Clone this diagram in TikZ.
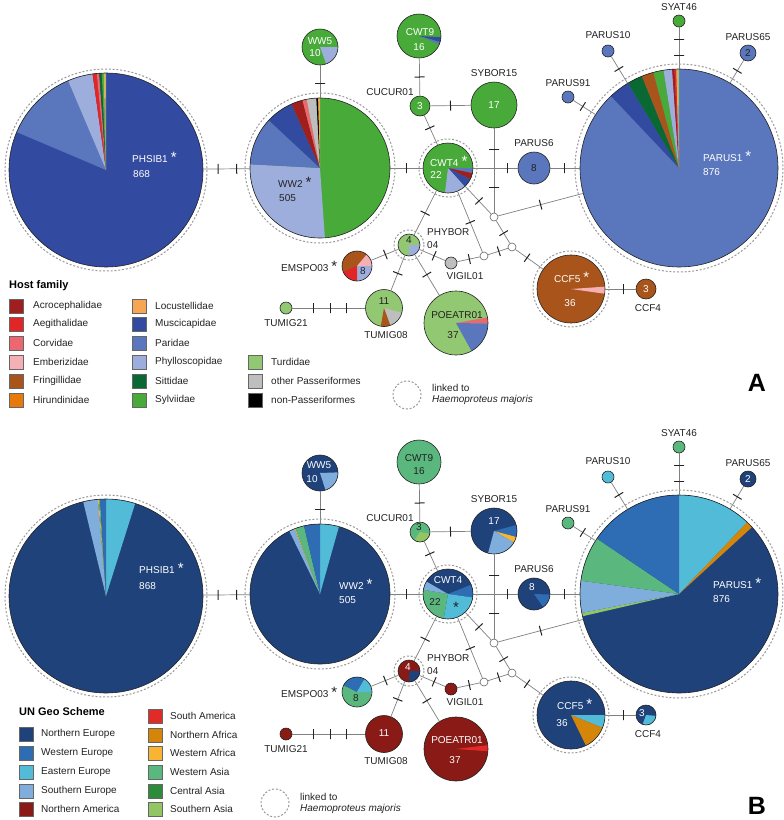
\documentclass[tikz,border=0pt]{standalone}
\usepackage{fontspec}
\setmainfont{Liberation Sans}
\usepackage{xcolor}
% host family colours
\definecolor{acro}{RGB}{160,30,30}
\definecolor{aegi}{RGB}{224,38,38}
\definecolor{corv}{RGB}{236,104,112}
\definecolor{embe}{RGB}{245,176,182}
\definecolor{frin}{RGB}{168,84,26}
\definecolor{hiru}{RGB}{232,122,10}
\definecolor{locu}{RGB}{247,166,84}
\definecolor{musc}{RGB}{50,74,160}
\definecolor{pari}{RGB}{90,118,188}
\definecolor{phyl}{RGB}{158,174,220}
\definecolor{sitt}{RGB}{10,104,50}
\definecolor{sylv}{RGB}{72,170,56}
\definecolor{turd}{RGB}{146,200,114}
\definecolor{othp}{RGB}{190,190,190}
\definecolor{nonp}{RGB}{0,0,0}
% UN geo scheme colours
\definecolor{neur}{RGB}{31,66,122}
\definecolor{weur}{RGB}{46,108,180}
\definecolor{eeur}{RGB}{82,188,216}
\definecolor{seur}{RGB}{128,174,220}
\definecolor{nam}{RGB}{138,26,22}
\definecolor{sam}{RGB}{226,42,40}
\definecolor{naf}{RGB}{212,134,10}
\definecolor{waf}{RGB}{248,180,50}
\definecolor{was}{RGB}{90,184,126}
\definecolor{cas}{RGB}{44,140,58}
\definecolor{sas}{RGB}{146,198,100}
\definecolor{inkgray}{RGB}{34,34,34}

% pie segment, angles clockwise from 12 o'clock
\newcommand{\pieseg}[3]{\fill[#3] (path picture bounding box.center) -- +({#1-90}:300) -- +({(#1+#2)/2-90}:300) -- +({#2-90}:300) -- cycle;}
\newcommand{\hapstar}{\hspace{3pt}{\fontsize{15}{15}\selectfont *}}

% links with mutation steps
\newcommand{\haplinks}[1]{%
  \draw[link] (phsib1#1) -- node[mut,pos=.32]{} node[mut,pos=.72]{} (ww2#1);
  \draw[link] (ww2#1) -- node[mut,pos=.45]{} (ww5#1);
  \draw[link] (ww2#1) -- node[mut,pos=.5]{} (cwt4#1);
  \draw[link] (cwt9#1) -- node[mut,pos=.5]{} (cucur01#1);
  \draw[link] (cucur01#1) -- node[mut,pos=.5]{} (sybor15#1);
  \draw[link] (cucur01#1) -- node[mut,pos=.42]{} (cwt4#1);
  \draw[link] (cwt4#1) -- node[mut,pos=.76]{} (parus6#1);
  \draw[link] (sybor15#1) -- node[mut,pos=.25]{} node[mut,pos=.7]{} (mva#1);
  \draw[link] (parus6#1) -- node[mut,pos=.47]{} (parus1#1);
  \draw[link] (mva#1) -- node[mut,pos=.5]{} (parus1#1);
  \draw[link] (cwt4#1) -- node[mut,pos=.53]{} (mva#1);
  \draw[link] (mva#1) -- node[mut,pos=.55]{} (mvb#1);
  \draw[link] (mvb#1) -- node[mut,pos=.42]{} (ccf5#1);
  \draw[link] (ccf5#1) -- node[mut,pos=.6]{} (ccf4#1);
  \draw[link] (cwt4#1) -- node[mut,pos=.51]{} (mvc#1);
  \draw[link] (mvc#1) -- node[mut,pos=.54]{} (mvb#1);
  \draw[link] (vigil01#1) -- node[mut,pos=.54]{} (mvc#1);
  \draw[link] (phybor04#1) -- node[mut,pos=.57]{} (vigil01#1);
  \draw[link] (phybor04#1) -- node[mut,pos=.49]{} (cwt4#1);
  \draw[link] (phybor04#1) -- node[mut,pos=.48]{} (emspo03#1);
  \draw[link] (phybor04#1) -- node[mut,pos=.51]{} (tumig08#1);
  \draw[link] (phybor04#1) -- node[mut,pos=.49]{} (poeatr01#1);
  \draw[link] (tumig21#1) -- node[mut,pos=.29]{} node[mut,pos=.52]{} node[mut,pos=.75]{} (tumig08#1);
  \draw[link] (syat46#1) -- node[mut,pos=.29]{} node[mut,pos=.69]{} (parus1#1);
  \draw[link] (parus10#1) -- node[mut,pos=.47]{} (parus1#1);
  \draw[link] (parus65#1) -- node[mut,pos=.47]{} (parus1#1);
  \draw[link] (parus91#1) -- node[mut,pos=.43]{} (parus1#1);
  % linked to H. majoris
  \draw[ring] (phsib1#1.center) circle[radius=101];
  \draw[ring] (ww2#1.center) circle[radius=75];
  \draw[ring] (cwt4#1.center) circle[radius=29];
  \draw[ring] (phybor04#1.center) circle[radius=15];
  \draw[ring] (ccf5#1.center) circle[radius=38];
  \draw[ring] (parus1#1.center) circle[radius=104];
}

% haplotype names outside the circles
\newcommand{\haptags}[1]{%
  \node[lab] (tsyat46#1) at (679,7) {SYAT46};
  \node[lab] (tparus10#1) at (608,35) {PARUS10};
  \node[lab] (tparus65#1) at (748,37) {PARUS65};
  \node[lab] (tparus91#1) at (568,83) {PARUS91};
  \node[lab] (tsybor15#1) at (494,73) {SYBOR15};
  \node[lab] (tcucur01#1) at (390,92) {CUCUR01};
  \node[lab] (tparus6#1) at (534,143) {PARUS6};
  \node[lab, anchor=west] (tphybor#1) at (427,232) {PHYBOR};
  \node[lab, anchor=west] (tphybor04#1) at (427,245) {04};
  \node[lab] (tvigil01#1) at (465,276) {VIGIL01};
  \node[lab, anchor=base west] (temspo03#1) at (281,271) {EMSPO03\hapstar};
  \node[lab] (ttumig21#1) at (286,323) {TUMIG21};
  \node[lab] (ttumig08#1) at (386,335) {TUMIG08};
  \node[lab] (tccf4#1) at (648,308) {CCF4};
}

\begin{document}
\begin{tikzpicture}[x=1pt, y=-1pt,
  hap/.style={circle, draw=inkgray, line width=0.6pt, inner sep=0pt},
  mv/.style={circle, draw=black!60, fill=white, line width=0.6pt, minimum size=8pt, inner sep=0pt},
  ring/.style={draw=black!40, line width=1pt, dash pattern=on 2pt off 1.8pt},
  link/.style={draw=black!50, line width=0.7pt},
  mut/.style={sloped, draw=inkgray, line width=1pt, inner sep=0pt, minimum width=0pt, minimum height=10pt},
  lab/.style={font=\fontsize{10}{11}\selectfont, inner sep=0pt, text=inkgray},
  wlab/.style={lab, text=white},
  ast/.style={font=\fontsize{15}{15}\selectfont, inner sep=0pt, text=inkgray},
  legsq/.style={draw=black!60, line width=0.5pt, minimum size=14pt, inner sep=0pt},
  legtxt/.style={font=\fontsize{10}{11}\selectfont, anchor=west, inner sep=0pt, text=inkgray},
  legtitle/.style={font=\bfseries\fontsize{11}{12}\selectfont, anchor=west, inner sep=0pt},
  panel/.style={font=\bfseries\fontsize{25}{25}\selectfont, inner sep=0pt}
]
\useasboundingbox (0,0) rectangle (784,820);

% ---------------- A: host family ----------------
\node[hap, minimum size=194pt, fill=musc, path picture={\pieseg{293}{337}{pari}\pieseg{337}{352}{phyl}\pieseg{352}{354.5}{aegi}\pieseg{354.5}{356}{corv}\pieseg{356}{357.5}{sitt}\pieseg{357.5}{358.6}{sylv}\pieseg{358.6}{359.4}{locu}\pieseg{359.4}{360}{turd}}] (phsib1A) at (106,170) {};
\node[hap, minimum size=140pt, fill=sylv, path picture={\pieseg{176}{273}{phyl}\pieseg{273}{313}{pari}\pieseg{313}{336}{musc}\pieseg{336}{345.5}{acro}\pieseg{345.5}{349}{corv}\pieseg{349}{357}{othp}\pieseg{357}{358.5}{nonp}\pieseg{358.5}{360}{locu}}] (ww2A) at (320,168) {};
\node[hap, minimum size=36pt, fill=sylv, path picture={\pieseg{90}{160}{phyl}}] (ww5A) at (320,47) {};
\node[hap, minimum size=44pt, fill=sylv, path picture={\pieseg{93}{106}{musc}\pieseg{106}{112}{pari}}] (cwt9A) at (419,36) {};
\node[hap, minimum size=20pt, fill=sylv] (cucur01A) at (420,106) {};
\node[hap, minimum size=46pt, fill=sylv] (sybor15A) at (494,105) {};
\node[hap, minimum size=50pt, fill=sylv, path picture={\pieseg{90}{102}{pari}\pieseg{102}{117}{acro}\pieseg{117}{138}{musc}\pieseg{138}{187}{phyl}}] (cwt4A) at (448,168) {};
\node[hap, minimum size=32pt, fill=pari] (parus6A) at (534,168) {};
\node[hap, minimum size=198pt, fill=pari, path picture={\pieseg{316.6}{329}{musc}\pieseg{329}{338}{sitt}\pieseg{338}{345}{frin}\pieseg{345}{351}{sylv}\pieseg{351}{356}{phyl}\pieseg{356}{357.4}{acro}\pieseg{357.4}{358.4}{aegi}\pieseg{358.4}{359.3}{locu}\pieseg{359.3}{360}{turd}}] (parus1A) at (679,168) {};
\node[hap, minimum size=12pt, fill=sylv] (syat46A) at (679,21) {};
\node[hap, minimum size=12pt, fill=pari] (parus10A) at (608,51) {};
\node[hap, minimum size=16pt, fill=pari] (parus65A) at (748,53) {};
\node[hap, minimum size=12pt, fill=pari] (parus91A) at (568,97) {};
\node[hap, minimum size=68pt, fill=frin, path picture={\pieseg{86}{98}{embe}}] (ccf5A) at (571,289) {};
\node[hap, minimum size=20pt, fill=frin] (ccf4A) at (646,289) {};
\node[hap, minimum size=22pt, fill=turd, path picture={\pieseg{90}{180}{phyl}}] (phybor04A) at (409,245) {};
\node[hap, minimum size=12pt, fill=othp] (vigil01A) at (451,263) {};
\node[hap, minimum size=30pt, fill=frin, path picture={\pieseg{40}{90}{embe}\pieseg{90}{180}{phyl}\pieseg{180}{247}{aegi}}] (emspo03A) at (357,266) {};
\node[hap, minimum size=12pt, fill=turd] (tumig21A) at (286,308) {};
\node[hap, minimum size=37pt, fill=turd, path picture={\pieseg{105}{160}{othp}\pieseg{160}{190}{frin}}] (tumig08A) at (384,308) {};
\node[hap, minimum size=64pt, fill=turd, path picture={\pieseg{80}{91}{corv}\pieseg{91}{151}{pari}}] (poeatr01A) at (456,323) {};
\node[mv] (mvaA) at (494,217) {};
\node[mv] (mvbA) at (512,247) {};
\node[mv] (mvcA) at (484,256) {};

\haplinks{A}
\haptags{A}

% counts and names inside the circles
\node[wlab, anchor=base west] (nphsib1A) at (132,162) {PHSIB1\hapstar};
\node[wlab, anchor=west] (cphsib1A) at (133,174) {868};
\node[lab, anchor=base west] (nww2A) at (278,187) {WW2\hapstar};
\node[lab, anchor=west] (cww2A) at (279,198) {505};
\node[wlab] (nww5A) at (320,41) {WW5};
\node[wlab] (cww5A) at (315,53) {10};
\node[wlab] (ncwt9A) at (420,32) {CWT9};
\node[wlab] (ccwt9A) at (419,47) {16};
\node[wlab] (ccucur01A) at (420,106) {3};
\node[wlab] (csybor15A) at (494,105) {17};
\node[wlab, anchor=base west] (ncwt4A) at (430,166) {CWT4\hapstar};
\node[wlab] (ccwt4A) at (436,175) {22};
\node[lab] (cparus6A) at (534,168) {8};
\node[wlab, anchor=base west] (nparus1A) at (703,161) {PARUS1\hapstar};
\node[wlab, anchor=west] (cparus1A) at (703,172) {876};
\node[lab] (cparus65A) at (748,53) {2};
\node[lab] (cphybor04A) at (409,240) {4};
\node[lab] (cemspo03A) at (363,271) {8};
\node[lab] (ctumig08A) at (384,301) {11};
\node[lab] (npoeatr01A) at (457,315) {POEATR01};
\node[lab] (cpoeatr01A) at (453,335) {37};
\node[wlab, anchor=base west] (nccf5A) at (554,282) {CCF5\hapstar};
\node[wlab] (cccf5A) at (570,303) {36};
\node[wlab] (cccf4A) at (646,289) {3};

% legend A
\node[legtitle] (hostkey) at (9,286) {Host family};
\node[legsq, fill=acro] (kacro) at (16,306) {}; \node[legtxt] (lacro) at (33,306) {Acrocephalidae};
\node[legsq, fill=aegi] (kaegi) at (16,324) {}; \node[legtxt] (laegi) at (33,324) {Aegithalidae};
\node[legsq, fill=corv] (kcorv) at (16,343) {}; \node[legtxt] (lcorv) at (33,343) {Corvidae};
\node[legsq, fill=embe] (kembe) at (16,362) {}; \node[legtxt] (lembe) at (33,362) {Emberizidae};
\node[legsq, fill=frin] (kfrin) at (16,381) {}; \node[legtxt] (lfrin) at (33,381) {Fringillidae};
\node[legsq, fill=hiru] (khiru) at (16,400) {}; \node[legtxt] (lhiru) at (33,400) {Hirundinidae};
\node[legsq, fill=locu] (klocu) at (139,306) {}; \node[legtxt] (llocu) at (155,306) {Locustellidae};
\node[legsq, fill=musc] (kmusc) at (139,324) {}; \node[legtxt] (lmusc) at (155,324) {Muscicapidae};
\node[legsq, fill=pari] (kpari) at (139,343) {}; \node[legtxt] (lpari) at (155,343) {Paridae};
\node[legsq, fill=phyl] (kphyl) at (139,362) {}; \node[legtxt] (lphyl) at (155,362) {Phylloscopidae};
\node[legsq, fill=sitt] (ksitt) at (139,381) {}; \node[legtxt] (lsitt) at (155,381) {Sittidae};
\node[legsq, fill=sylv] (ksylv) at (139,400) {}; \node[legtxt] (lsylv) at (155,400) {Sylviidae};
\node[legsq, fill=turd] (kturd) at (255,362) {}; \node[legtxt] (lturd) at (271,362) {Turdidae};
\node[legsq, fill=othp] (kothp) at (255,381) {}; \node[legtxt] (lothp) at (271,381) {other Passeriformes};
\node[legsq, fill=nonp] (knonp) at (255,400) {}; \node[legtxt] (lnonp) at (271,400) {non-Passeriformes};

\node[circle, ring, minimum size=28pt] (keyringA) at (407,395) {};
\node[legtxt] (keylinkA) at (432,388) {linked to};
\node[legtxt, font=\itshape\fontsize{10}{11}\selectfont] (keyhaemA) at (432,400) {Haemoproteus majoris};
\node[panel] (letterA) at (757,383) {A};

% ---------------- B: UN geo scheme ----------------
\begin{scope}[yshift=-426pt]
\node[hap, minimum size=194pt, fill=neur, path picture={\pieseg{0}{17.5}{eeur}\pieseg{346.4}{355.2}{seur}\pieseg{355.2}{355.8}{waf}\pieseg{355.8}{356.5}{was}\pieseg{356.5}{360}{weur}}] (phsib1B) at (106,170) {};
\node[hap, minimum size=140pt, fill=neur, path picture={\pieseg{0}{15.7}{eeur}\pieseg{334}{338.7}{seur}\pieseg{338.7}{339.5}{waf}\pieseg{339.5}{346.8}{was}\pieseg{346.8}{360}{weur}}] (ww2B) at (320,168) {};
\node[hap, minimum size=36pt, fill=neur, path picture={\pieseg{88}{162}{seur}}] (ww5B) at (320,47) {};
\node[hap, minimum size=44pt, fill=was] (cwt9B) at (419,36) {};
\node[hap, minimum size=20pt, fill=was, path picture={\pieseg{100}{215}{sas}}] (cucur01B) at (420,106) {};
\node[hap, minimum size=46pt, fill=neur, path picture={\pieseg{75}{105}{weur}\pieseg{105}{120}{waf}\pieseg{120}{195}{seur}}] (sybor15B) at (494,105) {};
\node[hap, minimum size=50pt, fill=neur, path picture={\pieseg{68}{98}{weur}\pieseg{98}{190}{eeur}\pieseg{190}{280}{was}\pieseg{280}{300}{seur}}] (cwt4B) at (448,168) {};
\node[hap, minimum size=32pt, fill=neur, path picture={\pieseg{92}{145}{weur}}] (parus6B) at (534,168) {};
\node[hap, minimum size=198pt, fill=neur, path picture={\pieseg{0}{43.5}{eeur}\pieseg{43.5}{47.5}{naf}\pieseg{257}{259}{sas}\pieseg{259}{277.7}{seur}\pieseg{277.7}{304}{was}\pieseg{304}{360}{weur}}] (parus1B) at (679,168) {};
\node[hap, minimum size=12pt, fill=was] (syat46B) at (679,21) {};
\node[hap, minimum size=12pt, fill=eeur] (parus10B) at (608,51) {};
\node[hap, minimum size=16pt, fill=neur] (parus65B) at (748,53) {};
\node[hap, minimum size=12pt, fill=was] (parus91B) at (568,97) {};
\node[hap, minimum size=68pt, fill=neur, path picture={\pieseg{90}{112}{eeur}\pieseg{112}{154}{naf}}] (ccf5B) at (571,289) {};
\node[hap, minimum size=20pt, fill=neur, path picture={\pieseg{95}{200}{eeur}}] (ccf4B) at (646,289) {};
\node[hap, minimum size=22pt, fill=nam, path picture={\pieseg{90}{180}{neur}}] (phybor04B) at (409,245) {};
\node[hap, minimum size=12pt, fill=nam] (vigil01B) at (451,263) {};
\node[hap, minimum size=30pt, fill=was, path picture={\pieseg{296}{390}{weur}\pieseg{30}{90}{eeur}}] (emspo03B) at (357,266) {};
\node[hap, minimum size=12pt, fill=nam] (tumig21B) at (286,308) {};
\node[hap, minimum size=37pt, fill=nam] (tumig08B) at (384,308) {};
\node[hap, minimum size=64pt, fill=nam, path picture={\pieseg{83}{94}{sam}}] (poeatr01B) at (456,323) {};
\node[mv] (mvaB) at (494,217) {};
\node[mv] (mvbB) at (512,247) {};
\node[mv] (mvcB) at (484,256) {};

\haplinks{B}
\haptags{B}

\node[wlab, anchor=base west] (nphsib1B) at (139,147) {PHSIB1\hapstar};
\node[wlab, anchor=west] (cphsib1B) at (139,160) {868};
\node[wlab, anchor=base west] (nww2B) at (339,163) {WW2\hapstar};
\node[wlab, anchor=west] (cww2B) at (339,174) {505};
\node[wlab] (nww5B) at (319,39) {WW5};
\node[wlab] (cww5B) at (312,53) {10};
\node[lab] (ncwt9B) at (419,32) {CWT9};
\node[lab] (ccwt9B) at (419,45) {16};
\node[lab] (ccucur01B) at (419,101) {3};
\node[wlab] (csybor15B) at (494,95) {17};
\node[wlab] (ncwt4B) at (448,154) {CWT4};
\node[lab] (ccwt4B) at (435,176) {22};
\node[ast] (scwt4B) at (456,181) {*};
\node[wlab] (cparus6B) at (532,161) {8};
\node[wlab, anchor=base west] (nparus1B) at (713,162) {PARUS1\hapstar};
\node[wlab, anchor=west] (cparus1B) at (713,173) {876};
\node[wlab] (cparus65B) at (748,53) {2};
\node[wlab] (cphybor04B) at (408,241) {4};
\node[lab] (cemspo03B) at (356,272) {8};
\node[wlab] (ctumig08B) at (384,307) {11};
\node[wlab] (npoeatr01B) at (457,314) {POEATR01};
\node[wlab] (cpoeatr01B) at (455,334) {37};
\node[wlab, anchor=base west] (nccf5B) at (557,283) {CCF5\hapstar};
\node[wlab] (cccf5B) at (562,297) {36};
\node[wlab] (cccf4B) at (642,287) {3};
\end{scope}

% legend B
\node[legtitle] (geokey) at (19,712) {UN Geo Scheme};
\node[legsq, fill=neur] (kneur) at (26,734) {}; \node[legtxt] (lneur) at (41,734) {Northern Europe};
\node[legsq, fill=weur] (kweur) at (26,753) {}; \node[legtxt] (lweur) at (41,753) {Western Europe};
\node[legsq, fill=eeur] (keeur) at (26,772) {}; \node[legtxt] (leeur) at (41,772) {Eastern Europe};
\node[legsq, fill=seur] (kseur) at (26,791) {}; \node[legtxt] (lseur) at (41,791) {Southern Europe};
\node[legsq, fill=nam] (knam) at (26,809) {}; \node[legtxt] (lnam) at (41,809) {Northern America};
\node[legsq, fill=sam] (ksam) at (155,716) {}; \node[legtxt] (lsam) at (170,716) {South America};
\node[legsq, fill=naf] (knaf) at (155,735) {}; \node[legtxt] (lnaf) at (170,735) {Northern Africa};
\node[legsq, fill=waf] (kwaf) at (155,753) {}; \node[legtxt] (lwaf) at (170,753) {Western Africa};
\node[legsq, fill=was] (kwas) at (155,772) {}; \node[legtxt] (lwas) at (170,772) {Western Asia};
\node[legsq, fill=cas] (kcas) at (155,791) {}; \node[legtxt] (lcas) at (170,791) {Central Asia};
\node[legsq, fill=sas] (ksas) at (155,809) {}; \node[legtxt] (lsas) at (170,809) {Southern Asia};

\node[circle, ring, minimum size=28pt] (keyringB) at (275,803) {};
\node[legtxt] (keylinkB) at (300,797) {linked to};
\node[legtxt, font=\itshape\fontsize{10}{11}\selectfont] (keyhaemB) at (300,809) {Haemoproteus majoris};
\node[panel] (letterB) at (757,806) {B};
\end{tikzpicture}
\end{document}
